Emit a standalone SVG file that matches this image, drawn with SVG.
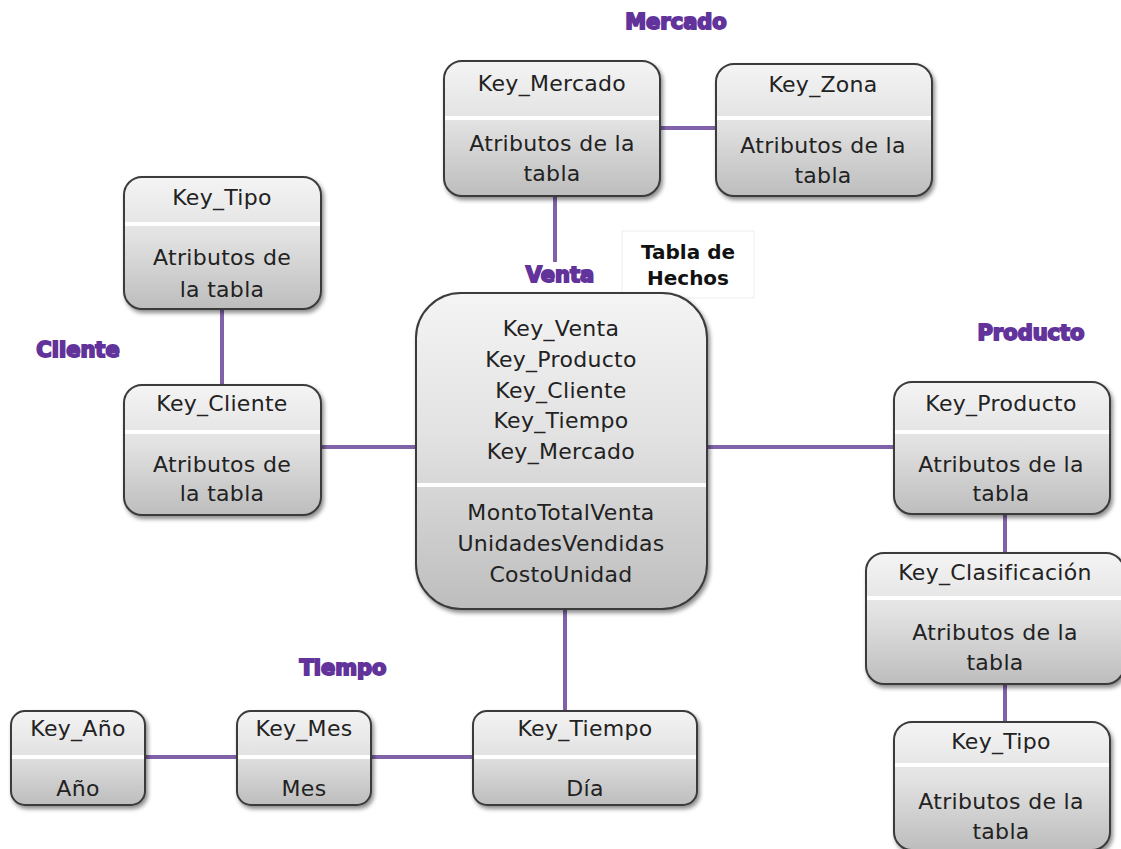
<svg xmlns="http://www.w3.org/2000/svg" width="1121" height="849" viewBox="0 0 1121 849">
<defs>
<linearGradient id="g" x1="0" y1="0" x2="0" y2="1">
<stop offset="0" stop-color="#f4f4f4"/>
<stop offset="0.45" stop-color="#e2e2e2"/>
<stop offset="1" stop-color="#bdbdbd"/>
</linearGradient>
<filter id="sh" x="-10%" y="-10%" width="125%" height="125%">
<feDropShadow dx="2" dy="3" stdDeviation="2" flood-color="#000" flood-opacity="0.45"/>
</filter>
</defs>
<style>
.box{fill:url(#g);stroke:#3a3a3a;stroke-width:2;filter:url(#sh)}
.div{stroke:#ffffff;stroke-width:4}
.t{font-family:"DejaVu Sans",sans-serif;font-size:22px;letter-spacing:0.3px;fill:#222;text-anchor:middle}
.lbl{font-family:"DejaVu Sans",sans-serif;font-size:21px;font-weight:bold;fill:#62339a;stroke:#62339a;stroke-width:1.8;text-anchor:middle}
.c{stroke:#7f62a8;stroke-width:4;fill:none}
.hb{font-family:"DejaVu Sans",sans-serif;font-size:20px;font-weight:bold;fill:#111;text-anchor:middle}
</style>
<rect width="1121" height="849" fill="#ffffff"/>
<g id="connectors">
<line class="c" x1="660" y1="128" x2="716" y2="128"/>
<line class="c" x1="555" y1="196" x2="555" y2="262"/>
<line class="c" x1="222" y1="309" x2="222" y2="385"/>
<line class="c" x1="320" y1="447" x2="416" y2="447"/>
<line class="c" x1="707" y1="447" x2="894" y2="447"/>
<line class="c" x1="1005" y1="514" x2="1005" y2="553"/>
<line class="c" x1="1005" y1="684" x2="1005" y2="722"/>
<line class="c" x1="565" y1="609" x2="565" y2="711"/>
<line class="c" x1="145" y1="757" x2="237" y2="757"/>
<line class="c" x1="371" y1="757" x2="473" y2="757"/>
</g>
<g id="labels">
<text class="lbl" x="676" y="29">Mercado</text>
<text class="lbl" x="560" y="282">Venta</text>
<text class="lbl" x="78" y="357">Cliente</text>
<text class="lbl" x="1031" y="340">Producto</text>
<text class="lbl" x="343" y="675">Tiempo</text>
</g>
<g id="tabla-hechos">
<rect x="622" y="231" width="132" height="67" fill="#ffffff" stroke="#eeeeee" stroke-width="1"/>
<text class="hb" x="688" y="259">Tabla de</text>
<text class="hb" x="688" y="285">Hechos</text>
</g>
<g id="key-mercado">
<rect class="box" x="444" y="61" width="216" height="135" rx="18"/>
<line class="div" x1="445" y1="118" x2="659" y2="118"/>
<text class="t" x="552" y="91">Key_Mercado</text>
<text class="t" x="552" y="151">Atributos de la</text>
<text class="t" x="552" y="181">tabla</text>
</g>
<g id="key-zona">
<rect class="box" x="716" y="64" width="216" height="132" rx="18"/>
<line class="div" x1="717" y1="118" x2="931" y2="118"/>
<text class="t" x="823" y="92">Key_Zona</text>
<text class="t" x="823" y="153">Atributos de la</text>
<text class="t" x="823" y="183">tabla</text>
</g>
<g id="venta">
<rect class="box" x="416" y="293" width="291" height="316" rx="45"/>
<line class="div" x1="417" y1="485" x2="706" y2="485"/>
<text class="t" x="561" y="336">Key_Venta</text>
<text class="t" x="561" y="367">Key_Producto</text>
<text class="t" x="561" y="398">Key_Cliente</text>
<text class="t" x="561" y="428">Key_Tiempo</text>
<text class="t" x="561" y="459">Key_Mercado</text>
<text class="t" x="561" y="520">MontoTotalVenta</text>
<text class="t" x="561" y="551">UnidadesVendidas</text>
<text class="t" x="561" y="582">CostoUnidad</text>
</g>
<g id="key-tipo-cliente">
<rect class="box" x="124" y="177" width="197" height="132" rx="18"/>
<line class="div" x1="125" y1="224" x2="320" y2="224"/>
<text class="t" x="222" y="205">Key_Tipo</text>
<text class="t" x="222" y="265">Atributos de</text>
<text class="t" x="222" y="297">la tabla</text>
</g>
<g id="key-cliente">
<rect class="box" x="124" y="385" width="197" height="130" rx="18"/>
<line class="div" x1="125" y1="432" x2="320" y2="432"/>
<text class="t" x="222" y="411">Key_Cliente</text>
<text class="t" x="222" y="472">Atributos de</text>
<text class="t" x="222" y="501">la tabla</text>
</g>
<g id="key-producto">
<rect class="box" x="894" y="382" width="216" height="132" rx="18"/>
<line class="div" x1="895" y1="432" x2="1109" y2="432"/>
<text class="t" x="1001" y="411">Key_Producto</text>
<text class="t" x="1001" y="472">Atributos de la</text>
<text class="t" x="1001" y="501">tabla</text>
</g>
<g id="key-clasificacion">
<rect class="box" x="866" y="553" width="258" height="131" rx="18"/>
<line class="div" x1="867" y1="598" x2="1121" y2="598"/>
<text class="t" x="995" y="580">Key_Clasificación</text>
<text class="t" x="995" y="640">Atributos de la</text>
<text class="t" x="995" y="670">tabla</text>
</g>
<g id="key-tipo-producto">
<rect class="box" x="894" y="722" width="216" height="128" rx="18"/>
<line class="div" x1="895" y1="765" x2="1109" y2="765"/>
<text class="t" x="1001" y="749">Key_Tipo</text>
<text class="t" x="1001" y="809">Atributos de la</text>
<text class="t" x="1001" y="839">tabla</text>
</g>
<g id="key-anio">
<rect class="box" x="11" y="711" width="134" height="94" rx="14"/>
<line class="div" x1="12" y1="757" x2="144" y2="757"/>
<text class="t" x="78" y="736">Key_Año</text>
<text class="t" x="78" y="796">Año</text>
</g>
<g id="key-mes">
<rect class="box" x="237" y="711" width="134" height="94" rx="14"/>
<line class="div" x1="238" y1="757" x2="370" y2="757"/>
<text class="t" x="304" y="736">Key_Mes</text>
<text class="t" x="304" y="796">Mes</text>
</g>
<g id="key-tiempo">
<rect class="box" x="473" y="711" width="224" height="94" rx="14"/>
<line class="div" x1="474" y1="757" x2="696" y2="757"/>
<text class="t" x="585" y="736">Key_Tiempo</text>
<text class="t" x="585" y="796">Día</text>
</g>
</svg>
